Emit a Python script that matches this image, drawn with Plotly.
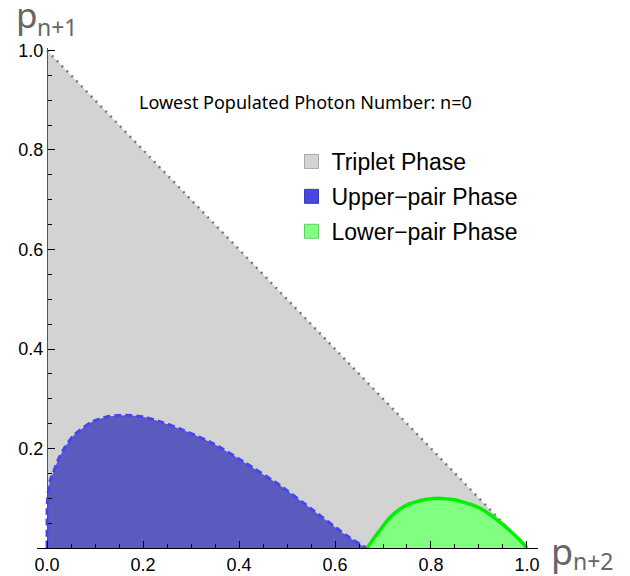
import plotly.graph_objects as go

# Phase regions
tri_x = [0.0, 0.0, 1.0]
tri_y = [0.0, 1.0, 0.0]

upper_x = [0.0, 0.0, 0.002, 0.006, 0.0125, 0.022, 0.033, 0.054, 0.09, 0.125, 0.163,
           0.2, 0.242, 0.276, 0.346, 0.415, 0.485, 0.554, 0.624, 0.658, 0.667]
upper_y = [0.0, 0.076, 0.109, 0.135, 0.15, 0.175, 0.196, 0.225, 0.252, 0.264, 0.267,
           0.264, 0.252, 0.240, 0.210, 0.170, 0.126, 0.076, 0.025, 0.004, 0.0]

lower_x = [0.667, 0.68, 0.693, 0.707, 0.721, 0.738, 0.756, 0.785, 0.815, 0.85, 0.885,
           0.91, 0.929, 0.95, 0.971, 0.987, 1.0]
lower_y = [0.0, 0.018, 0.035, 0.053, 0.067, 0.080, 0.089, 0.097, 0.100, 0.097, 0.087,
           0.076, 0.063, 0.047, 0.029, 0.014, 0.0]

legend_names = ["Triplet Phase", "Upper\u2212pair Phase", "Lower\u2212pair Phase"]
x_ticks = [0.0, 0.2, 0.4, 0.6, 0.8, 1.0]
y_ticks = [0.2, 0.4, 0.6, 0.8, 1.0]

XR = [-0.021, 1.023]
YR = [0.0, 1.005]

ML, MR, MT, MB = 37, 92, 48, 28
W, H = 630, 576
PW, PH = W - ML - MR, H - MT - MB


def px(xp):
    return (xp - ML) / PW


def py(yp):
    return (H - MB - yp) / PH


fig = go.Figure()
# gray triangle
fig.add_trace(go.Scatter(x=tri_x, y=tri_y, fill="toself", fillcolor="#d3d3d3",
                         mode="lines", line=dict(width=0), showlegend=False, hoverinfo="skip"))
# dotted diagonal edge
fig.add_trace(go.Scatter(x=tri_x[1:], y=tri_y[1:], mode="lines",
                         line=dict(color="#777777", width=2.5, dash="2px,5px"),
                         showlegend=False, hoverinfo="skip"))
# upper-pair region
fig.add_trace(go.Scatter(x=upper_x, y=upper_y, fill="toself", fillcolor="#5b5bbf",
                         mode="lines", line=dict(color="#4646ee", width=3, dash="7px,4px",
                                                  shape="spline", smoothing=0.5),
                         showlegend=False, hoverinfo="skip"))
# lower-pair region
fig.add_trace(go.Scatter(x=lower_x, y=lower_y, fill="toself", fillcolor="#80ff80",
                         mode="lines", line=dict(color="#00f000", width=3.5,
                                                  shape="spline", smoothing=0.3),
                         showlegend=False, hoverinfo="skip"))

# legend entries
sw_fill = ["#d3d3d3", "#4848e0", "#80ff80"]
sw_edge = ["#a8a8a8", "#3a3ab8", "#66cc66"]
for i, name in enumerate(legend_names):
    fig.add_trace(go.Scatter(x=[None], y=[None], mode="markers", name=name,
                             legendgroup=f"g{i}",
                             marker=dict(symbol="square", size=14, color=sw_fill[i],
                                         line=dict(color=sw_edge[i], width=1))))

lab_font = "Noto Sans, Open Sans, sans-serif"
tick_font = dict(family="Liberation Sans, Arial, sans-serif", size=18, color="black")

fig.update_layout(
    width=W, height=H,
    margin=dict(l=ML, r=MR, t=MT, b=MB),
    paper_bgcolor="white", plot_bgcolor="white",
    showlegend=True,
    legend=dict(x=0.508, y=0.816, xanchor="left", yanchor="top",
                bgcolor="rgba(0,0,0,0)", tracegroupgap=2,
                font=dict(family="Liberation Sans, Arial, sans-serif", size=23, color="black")),
    xaxis=dict(range=XR, showgrid=False, zeroline=False, showline=True, automargin=False,
               linecolor="black", linewidth=1.2,
               tickvals=x_ticks, ticktext=[f"{v:.1f}" for v in x_ticks],
               ticks="inside", ticklen=7, tickwidth=1.2, tickcolor="black",
               minor=dict(dtick=0.05, tick0=0, ticks="inside", ticklen=4,
                          tickwidth=1, tickcolor="black"),
               tickfont=tick_font),
    yaxis=dict(range=YR, showgrid=False, zeroline=False, showline=True, automargin=False,
               anchor="free", position=(0 - XR[0]) / (XR[1] - XR[0]),
               linecolor="#555", linewidth=1.2,
               tickvals=y_ticks, ticktext=[f"{v:.1f}" for v in y_ticks],
               ticks="inside", ticklen=7, tickwidth=1.2, tickcolor="black",
               minor=dict(dtick=0.05, tick0=0, ticks="inside", ticklen=4,
                          tickwidth=1, tickcolor="black"),
               tickfont=tick_font),
    annotations=[
        dict(text="Lowest Populated Photon Number: n=0", xref="paper", yref="paper",
             x=px(305.5), y=py(102), xanchor="center", yanchor="middle", showarrow=False,
             font=dict(family=lab_font, size=18, color="black")),
        # y-axis label p_{n+1}
        dict(text="p", xref="paper", yref="paper", x=px(14), y=py(15),
             xanchor="left", yanchor="middle", showarrow=False,
             font=dict(family=lab_font, size=35, color="#666")),
        dict(text="n+1", xref="paper", yref="paper", x=px(35), y=py(26.5),
             xanchor="left", yanchor="middle", showarrow=False,
             font=dict(family=lab_font, size=23, color="#666")),
        # x-axis label p_{n+2}
        dict(text="p", xref="paper", yref="paper", x=px(549), y=py(551),
             xanchor="left", yanchor="middle", showarrow=False,
             font=dict(family=lab_font, size=36, color="#666")),
        dict(text="n+2", xref="paper", yref="paper", x=px(571), y=py(560.5),
             xanchor="left", yanchor="middle", showarrow=False,
             font=dict(family=lab_font, size=23, color="#666")),
    ],
)

fig.write_html("out.html")
